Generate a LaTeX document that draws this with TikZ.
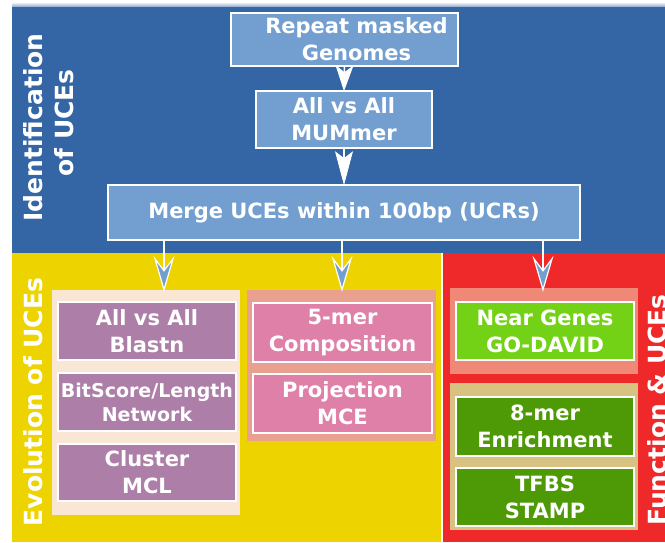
\documentclass[tikz,border=0pt]{standalone}
\usepackage{fontspec}
\setmainfont{DejaVu Sans}
\usetikzlibrary{arrows.meta}
\definecolor{bgblue}{HTML}{3465A4}
\definecolor{boxblue}{HTML}{729FCF}
\definecolor{yel}{HTML}{EDD400}
\definecolor{redc}{HTML}{EF2929}
\definecolor{peach}{HTML}{FAE6D4}
\definecolor{salmon}{HTML}{E9A08E}
\definecolor{coral}{HTML}{EF8877}
\definecolor{tan}{HTML}{D8C282}
\definecolor{purp}{HTML}{AD7FA8}
\definecolor{pinkb}{HTML}{DE80A8}
\definecolor{lgreen}{HTML}{73D216}
\definecolor{dgreen}{HTML}{4E9A06}
\tikzset{
  box/.style={draw=white, line width=1.6pt, rectangle, inner sep=0pt, align=center,
    text=white, font=\bfseries\fontsize{21}{27}\selectfont},
  panel/.style={rectangle, inner sep=0pt, draw=none},
  sidetext/.style={text=white, font=\bfseries\fontsize{25}{30}\selectfont, inner sep=0pt, rotate=90, anchor=base},
  toparr/.style={draw=white, line width=1.5pt, -{Stealth[length=#1, width=18pt, inset=7pt, fill=white, line width=1pt]}},
  botarr/.style={draw=white, line width=1.5pt, -{Stealth[length=36pt, width=21pt, inset=14pt, fill=boxblue, line width=1.2pt]}}
}
\begin{document}
\begin{tikzpicture}[x=1pt,y=-1pt]
\useasboundingbox (0,0) rectangle (665,542);
\begin{scope}
\clip (0,0) rectangle (665,542);
% backgrounds
\shade[top color=white, bottom color=bgblue!60] (12,2) rectangle (665,7);
\fill[bgblue] (12,7) rectangle (665,253);
\fill[yel] (12,253) rectangle (441,542);
\fill[white] (441,253) rectangle (442.5,542);
\fill[redc] (442.5,253) rectangle (665,542);

% side labels
\node[sidetext] (idA) at (42,127.5) {Identification};
\node[sidetext] (idB) at (74,123) {of UCEs};
\node[sidetext] (evo) at (42,402) {Evolution of UCEs};
\node[sidetext] (fun) at (666,410) {Function \& UCEs};

% top pipeline
\node[box, fill=boxblue, minimum width=227pt, minimum height=53pt] (rep) at (344.5,39.5)
  {\hspace*{24pt}Repeat masked\\\hspace*{24pt}Genomes};
\node[box, fill=boxblue, minimum width=176pt, minimum height=57pt] (mum) at (344,119.5)
  {All vs All\\MUMmer};
\node[box, fill=boxblue, minimum width=472pt, minimum height=55pt] (merge) at (344,212.5)
  {Merge UCEs within 100bp (UCRs)};

% panels
\node[panel, fill=peach, minimum width=188pt, minimum height=225pt] (lp) at (146,402.5) {};
\node[panel, fill=salmon, minimum width=189pt, minimum height=151pt] (mp) at (341.5,365.5) {};
\node[panel, fill=coral, minimum width=188pt, minimum height=86pt] (rp1) at (544,331) {};
\node[panel, fill=tan, minimum width=188pt, minimum height=147pt] (rp2) at (544,456.5) {};

% left boxes
\node[box, fill=purp, minimum width=178pt, minimum height=58pt] (blast) at (147,331) {All vs All\\Blastn};
\node[box, fill=purp, minimum width=178pt, minimum height=58pt,
  font=\bfseries\fontsize{19}{24}\selectfont] (bits) at (147,402) {BitScore/Length\\Network};
\node[box, fill=purp, minimum width=178pt, minimum height=57pt] (mcl) at (147,472.5) {Cluster\\MCL};

% middle boxes
\node[box, fill=pinkb, minimum width=179pt, minimum height=59pt] (kmer5) at (342.5,332.5) {5-mer\\Composition};
\node[box, fill=pinkb, minimum width=179pt, minimum height=59pt] (proj) at (342.5,403.5) {Projection\\MCE};

% right boxes
\node[box, fill=lgreen, minimum width=178pt, minimum height=58pt] (near) at (545,331) {Near Genes\\GO-DAVID};
\node[box, fill=dgreen, minimum width=178pt, minimum height=59pt] (kmer8) at (545,426.5) {8-mer\\Enrichment};
\node[box, fill=dgreen, minimum width=178pt, minimum height=58pt] (tfbs) at (545,497) {TFBS\\STAMP};

% arrows
\draw[toparr=26pt] (rep.south) -- ([yshift=-1pt]mum.north);
\draw[toparr=34pt] (mum.south) -- ([yshift=-1pt]merge.north);
\coordinate (c1) at (164,0);
\coordinate (c2) at (342,0);
\coordinate (c3) at (543,0);
\draw[botarr] (merge.south -| c1) -- ([yshift=-2pt]lp.north -| c1);
\draw[botarr] (merge.south -| c2) -- ([yshift=-2pt]mp.north -| c2);
\draw[botarr] (merge.south -| c3) -- ([yshift=-4pt]rp1.north -| c3);
\end{scope}
\end{tikzpicture}
\end{document}
